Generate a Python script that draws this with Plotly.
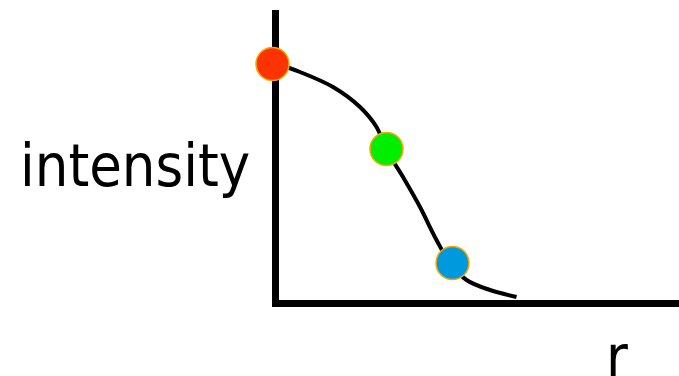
import plotly.graph_objects as go

# Curve: intensity vs r (arbitrary units)
curve_r = [-1, 24.5, 57.5, 84.5, 101, 111, 127.5, 144.5, 161, 174.5, 191, 214.5, 241]
curve_i = [240, 231, 216, 196, 176, 153, 126, 96, 63, 40, 23, 13, 6]

# Highlighted sample points
pt_r = [-3, 111, 177]
pt_i = [239, 154, 40]
pt_colors = ["#ff3300", "#00ee00", "#0099dd"]

x_label = "r"
y_label = "intensity"

fig = go.Figure()
fig.add_trace(go.Scatter(
    x=curve_r, y=curve_i, mode="lines",
    line=dict(color="black", width=4, shape="spline", smoothing=1.0),
    cliponaxis=False, hoverinfo="skip", showlegend=False,
))
fig.add_trace(go.Scatter(
    x=pt_r, y=pt_i, mode="markers",
    marker=dict(size=33, color=pt_colors, line=dict(color="#f5a800", width=1.5)),
    cliponaxis=False, showlegend=False,
))

font_family = "DejaVu Sans Condensed, DejaVu Sans, sans-serif"
fig.add_annotation(x=-0.049, y=0.478, xref="paper", yref="paper", text=y_label,
                   showarrow=False, xanchor="right", yanchor="middle",
                   font=dict(family=font_family, size=59, color="black"))
fig.add_annotation(x=0.847, y=-0.165, xref="paper", yref="paper", text=x_label,
                   showarrow=False, xanchor="center", yanchor="middle",
                   font=dict(family=font_family, size=59, color="black"))

fig.update_xaxes(range=[-3.5, 403.5], showline=False, zeroline=True,
                 zerolinewidth=7, zerolinecolor="black",
                 showgrid=False, showticklabels=False, ticks="")
fig.update_yaxes(range=[-4, 293], showline=False, zeroline=True,
                 zerolinewidth=7, zerolinecolor="black",
                 showgrid=False, showticklabels=False, ticks="")
fig.update_layout(
    width=679, height=376,
    margin=dict(l=272, r=0, t=10, b=69),
    paper_bgcolor="white", plot_bgcolor="white",
)
fig.write_html(
    "out.html",
    config={"displayModeBar": False},
    post_script="document.body.style.margin='0';document.body.style.overflow='hidden';",
)
